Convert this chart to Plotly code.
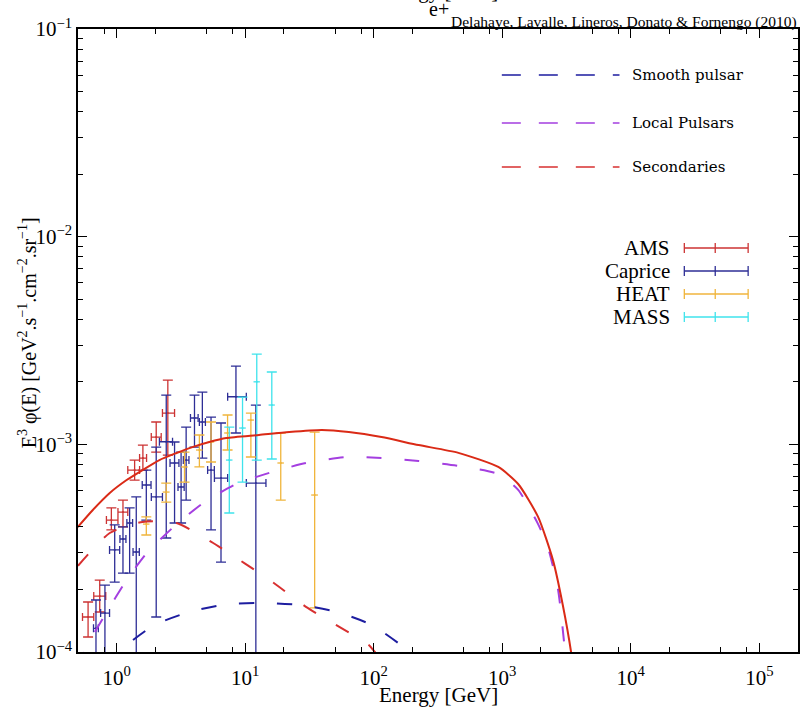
import numpy as np
import plotly.graph_objects as go

# ---------------- model curves: E^3 phi(E) [GeV^2 s^-1 cm^-2 sr^-1] ----------------
total_E = [0.498, 0.652, 0.883, 1.195, 1.59, 2.15, 2.92, 3.88, 5.26, 7.13, 12.8, 22, 39.5,
           64, 115, 223, 456, 931, 1330, 1900, 2480, 2960, 3430, 3800]
total_F = [4.0e-4, 4.83e-4, 5.83e-4, 6.73e-4, 7.52e-4, 8.40e-4, 9.08e-4, 9.70e-4, 1.026e-3,
           1.072e-3, 1.109e-3, 1.146e-3, 1.172e-3, 1.146e-3, 1.084e-3, 9.92e-4, 9.1e-4,
           7.78e-4, 6.44e-4, 4.47e-4, 2.77e-4, 1.68e-4, 1.0e-4, 6e-5]

smooth_E = [0.95, 1.11, 1.26, 1.97, 3.68, 7.25, 14.5, 27.6, 51.5, 96.5, 162, 180, 210]
smooth_F = [8e-5, 1.0e-4, 1.105e-4, 1.35e-4, 1.56e-4, 1.70e-4, 1.72e-4, 1.68e-4, 1.56e-4,
            1.35e-4, 1.08e-4, 1.0e-4, 8.5e-5]

local_E = [0.52, 0.565, 0.837, 1.195, 1.74, 2.82, 4.81, 8.51, 16.2, 29.7, 60.7, 115, 223,
           456, 931, 1330, 1900, 2275, 2719, 3078, 3300]
local_F = [8.5e-5, 1.02e-4, 1.56e-4, 2.22e-4, 3.03e-4, 4.04e-4, 5.27e-4, 6.44e-4, 7.36e-4,
           8.13e-4, 8.69e-4, 8.59e-4, 8.31e-4, 7.86e-4, 7.19e-4, 6.03e-4, 4.13e-4, 3.17e-4,
           1.99e-4, 1.0e-4, 6e-5]

sec_E = [0.5, 0.883, 1.59, 2.92, 5.45, 9.84, 16.7, 29.7, 50.8, 91.6, 102, 120]
sec_F = [2.6e-4, 3.74e-4, 4.23e-4, 4.18e-4, 3.39e-4, 2.68e-4, 2.15e-4, 1.65e-4, 1.35e-4,
         1.08e-4, 1.0e-4, 9e-5]

# ---------------- measurements ----------------
ams_E = [0.599, 0.738, 0.909, 1.119, 1.379, 1.599, 2.03, 2.5]
ams_Elo = [0.542, 0.663, 0.832, 1.023, 1.22, 1.507, 1.858, 2.27]
ams_Ehi = [0.663, 0.822, 1.023, 1.22, 1.507, 1.708, 2.22, 2.82]
ams_F = [1.474e-4, 1.86e-4, 4.32e-4, 4.72e-4, 7.52e-4, 8.59e-4, 1.084e-3, 1.415e-3]
ams_Flo = [1.181e-4, 1.558e-4, 3.87e-4, 4.0e-4, 6.73e-4, 7.52e-4, 9.18e-4, 8.88e-4]
ams_Fhi = [1.741e-4, 2.22e-4, 4.94e-4, 5.39e-4, 8.40e-4, 9.92e-4, 1.281e-3, 2.04e-3]

cap_E = [0.69, 0.81, 0.965, 1.119, 1.261, 1.42, 1.7, 2.03, 2.43, 2.82, 3.17, 3.47, 4.03,
         4.64, 5.42, 6.48, 8.47, 12.1]
cap_Elo = [0.66, 0.75, 0.88, 1.06, 1.2, 1.34, 1.58, 1.86, 2.15, 2.6, 3.0, 3.3, 3.75, 4.4,
           5.1, 5.76, 7.3, 10.2]
cap_Ehi = [0.72, 0.88, 1.055, 1.18, 1.33, 1.5, 1.85, 2.27, 2.72, 3.05, 3.35, 3.65, 4.3, 4.9,
           5.75, 7.3, 10.2, 14.5]
cap_F = [1.3e-4, 1.54e-4, 3.1e-4, 3.5e-4, 4.18e-4, 3.03e-4, 6.37e-4, 5.58e-4, 1.029e-3,
         8.13e-4, 6.23e-4, 8.40e-4, 1.339e-3, 1.281e-3, 7.52e-4, 6.88e-4, 1.695e-3, 6.51e-4]
cap_Flo = [5e-5, 5e-5, 2.17e-4, 2.4e-4, 2.4e-4, 5e-5, 4.32e-4, 1.474e-4, 3.54e-4, 4.18e-4,
           4.18e-4, 5.39e-4, 9.70e-4, 8.59e-4, 3.87e-4, 2.71e-4, 1.134e-3, 5e-5]
cap_Fhi = [1.78e-4, 2.10e-4, 4.09e-4, 4.0e-4, 4.94e-4, 5.58e-4, 7.52e-4, 9.70e-4, 1.727e-3,
           1.026e-3, 9.18e-4, 1.211e-3, 1.727e-3, 1.786e-3, 1.353e-3, 1.267e-3, 2.38e-3,
           1.546e-3]

heat_E = [1.7, 2.43, 3.37, 4.4, 5.42, 7.29, 11.07, 18.9, 34.7]
heat_Elo = [1.6, 2.28, 3.17, 4.14, 5.1, 6.86, 10.4, 17.8, 32.6]
heat_Ehi = [1.8, 2.58, 3.57, 4.66, 5.74, 7.72, 11.7, 20.0, 36.8]
heat_F = [4.13e-4, 5.89e-4, 7.78e-4, 9.39e-4, 1.026e-3, 1.134e-3, 1.309e-3, 8.13e-4, 5.70e-4]
heat_Flo = [3.66e-4, 5.27e-4, 6.58e-4, 7.78e-4, 8.22e-4, 9.39e-4, 8.69e-4, 5.39e-4, 1.63e-4]
heat_Fhi = [4.47e-4, 6.51e-4, 9.18e-4, 1.109e-3, 1.281e-3, 1.384e-3, 1.415e-3, 1.134e-3,
            1.146e-3]

mass_E = [7.52, 9.53, 12.3, 16.1]
mass_Elo = [7.08, 8.97, 11.6, 15.2]
mass_Ehi = [7.96, 10.1, 13.0, 17.0]
mass_F = [8.40e-4, 1.198e-3, 2.0e-3, 1.546e-3]
mass_Flo = [4.67e-4, 6.58e-4, 8.40e-4, 8.50e-4]
mass_Fhi = [1.211e-3, 1.689e-3, 2.72e-3, 2.23e-3]

# axis tick decades
x_decades = [0, 1, 2, 3, 4, 5]
y_decades = [-4, -3, -2, -1]

# colours
C_AMS, C_CAP, C_HEAT, C_MASS = "#cc3333", "#2e2e96", "#f0b53c", "#3fe3ec"
C_TOT, C_SEC, C_LOC, C_SMO = "#da2a16", "#d83030", "#a43fe0", "#1d1da0"

SERIF = "Liberation Serif"
fig = go.Figure()


def data_trace(E, Elo, Ehi, F, Flo, Fhi, color, xcap):
    E, Elo, Ehi = np.array(E), np.array(Elo), np.array(Ehi)
    F, Flo, Fhi = np.array(F), np.array(Flo), np.array(Fhi)
    fig.add_trace(go.Scatter(
        x=E, y=F, mode="markers",
        marker=dict(size=2, color=color),
        error_x=dict(type="data", symmetric=False, array=Ehi - E, arrayminus=E - Elo,
                     color=color, thickness=1.3, width=xcap),
        error_y=dict(type="data", symmetric=False, array=Fhi - F, arrayminus=F - Flo,
                     color=color, thickness=1.3, width=5),
        showlegend=False, hoverinfo="skip"))


data_trace(ams_E, ams_Elo, ams_Ehi, ams_F, ams_Flo, ams_Fhi, C_AMS, 4)
data_trace(cap_E, cap_Elo, cap_Ehi, cap_F, cap_Flo, cap_Fhi, C_CAP, 4)
data_trace(heat_E, heat_Elo, heat_Ehi, heat_F, heat_Flo, heat_Fhi, C_HEAT, 0)
data_trace(mass_E, mass_Elo, mass_Ehi, mass_F, mass_Flo, mass_Fhi, C_MASS, 0)

DASH = "15px,23px"
for E, F, col, dash in [(smooth_E, smooth_F, C_SMO, DASH), (local_E, local_F, C_LOC, DASH),
                        (sec_E, sec_F, C_SEC, DASH), (total_E, total_F, C_TOT, "solid")]:
    fig.add_trace(go.Scatter(x=E, y=F, mode="lines",
                             line=dict(color=col, width=2, dash=dash, shape="spline",
                                       smoothing=0.6),
                             showlegend=False, hoverinfo="skip"))

# ---------------- axes ----------------
L, R, T, B = 78, 800, 29, 652
W, H = 807, 707


def px(x):
    return (x - L) / (R - L)


def py(y):
    return (B - y) / (B - T)


def power_label(k):
    return "10<sup>%s</sup>" % (str(k).replace("-", "\u2212"))


x_minor = [m * 10.0 ** k for k in range(-1, 6) for m in (2, 5, 8)]
x_minor = [v for v in x_minor if 0.5 < v < 2e5]
y_minor = [m * 10.0 ** k for k in range(-4, -1) for m in range(2, 10)]

axis_common = dict(type="log", showgrid=False, zeroline=False, showline=True,
                   linecolor="black", linewidth=1.5, mirror="allticks", ticks="inside",
                   ticklen=9, tickwidth=1.2, tickcolor="black",
                   tickfont=dict(family=SERIF, size=21, color="black"))

fig.update_xaxes(range=[np.log10(0.5), np.log10(2e5)],
                 tickvals=[10.0 ** k for k in x_decades],
                 ticktext=[power_label(k) for k in x_decades],
                 ticklabelstandoff=6,
                 minor=dict(tickvals=x_minor, ticks="inside", ticklen=5, tickwidth=1,
                            tickcolor="black"),
                 **axis_common)
fig.update_yaxes(range=[-4, -1], tickvals=[10.0 ** k for k in y_decades],
                 ticktext=[power_label(k) for k in y_decades],
                 minor=dict(tickvals=y_minor, ticks="inside", ticklen=5, tickwidth=1,
                            tickcolor="black"),
                 **axis_common)

# ---------------- legends ----------------
shapes, annotations = [], []
for name, col, yy in [("Smooth pulsar", C_SMO, 75), ("Local Pulsars", C_LOC, 123),
                      ("Secondaries", C_SEC, 167)]:
    shapes.append(dict(type="line", xref="paper", yref="paper", x0=px(503), x1=px(621),
                       y0=py(yy), y1=py(yy), line=dict(color=col, width=1.6, dash="19px,18px")))
    annotations.append(dict(text=name, xref="paper", yref="paper", x=px(632), y=py(yy),
                            xanchor="left", yanchor="middle", showarrow=False,
                            font=dict(family="DejaVu Serif", size=15, color="black")))

for name, col, yy in [("AMS", C_AMS, 248), ("Caprice", C_CAP, 271), ("HEAT", C_HEAT, 294),
                      ("MASS", C_MASS, 317)]:
    shapes.append(dict(type="line", xref="paper", yref="paper", x0=px(686), x1=px(750),
                       y0=py(yy), y1=py(yy), line=dict(color=col, width=1.3)))
    for xc in (686, 717, 750):
        shapes.append(dict(type="line", xref="paper", yref="paper", x0=px(xc), x1=px(xc),
                           y0=py(yy - 5), y1=py(yy + 5), line=dict(color=col, width=1.3)))
    annotations.append(dict(text=name, xref="paper", yref="paper", x=px(674), y=py(yy),
                            xanchor="right", yanchor="middle", showarrow=False,
                            font=dict(family=SERIF, size=21, color="black")))

# ---------------- axis titles and header texts ----------------
annotations.append(dict(text="Energy [GeV]", xref="paper", yref="paper", x=px(439),
                        y=py(695), xanchor="center", yanchor="middle", showarrow=False,
                        font=dict(family=SERIF, size=21, color="black")))
annotations.append(dict(text="E<sup>3</sup> \u03c6(E) [GeV<sup>2</sup>.s<sup>\u22121</sup>"
                             ".cm<sup>\u22122</sup>.sr<sup>\u22121</sup>]",
                        xref="paper", yref="paper", x=px(27), y=py(333), textangle=-90,
                        xanchor="center", yanchor="middle", showarrow=False,
                        font=dict(family=SERIF, size=20, color="black")))
annotations.append(dict(text="Energy [GeV]", xref="paper", yref="paper", x=px(439),
                        y=py(5), xanchor="center", yanchor="bottom", showarrow=False,
                        font=dict(family=SERIF, size=21, color="black")))
annotations.append(dict(text="e+", xref="paper", yref="paper", x=px(440), y=py(9),
                        xanchor="center", yanchor="middle", showarrow=False,
                        font=dict(family=SERIF, size=20, color="black")))
annotations.append(dict(text="Delahaye, Lavalle, Lineros, Donato &amp; Fornengo (2010)",
                        xref="paper", yref="paper", x=px(801), y=py(22), xanchor="right",
                        yanchor="middle", showarrow=False,
                        font=dict(family=SERIF, size=15.5, color="black")))

fig.update_layout(width=W, height=H, margin=dict(l=L, r=W - R, t=T, b=H - B),
                  paper_bgcolor="white", plot_bgcolor="white", shapes=shapes,
                  annotations=annotations, showlegend=False)

fig.write_html("out.html")
